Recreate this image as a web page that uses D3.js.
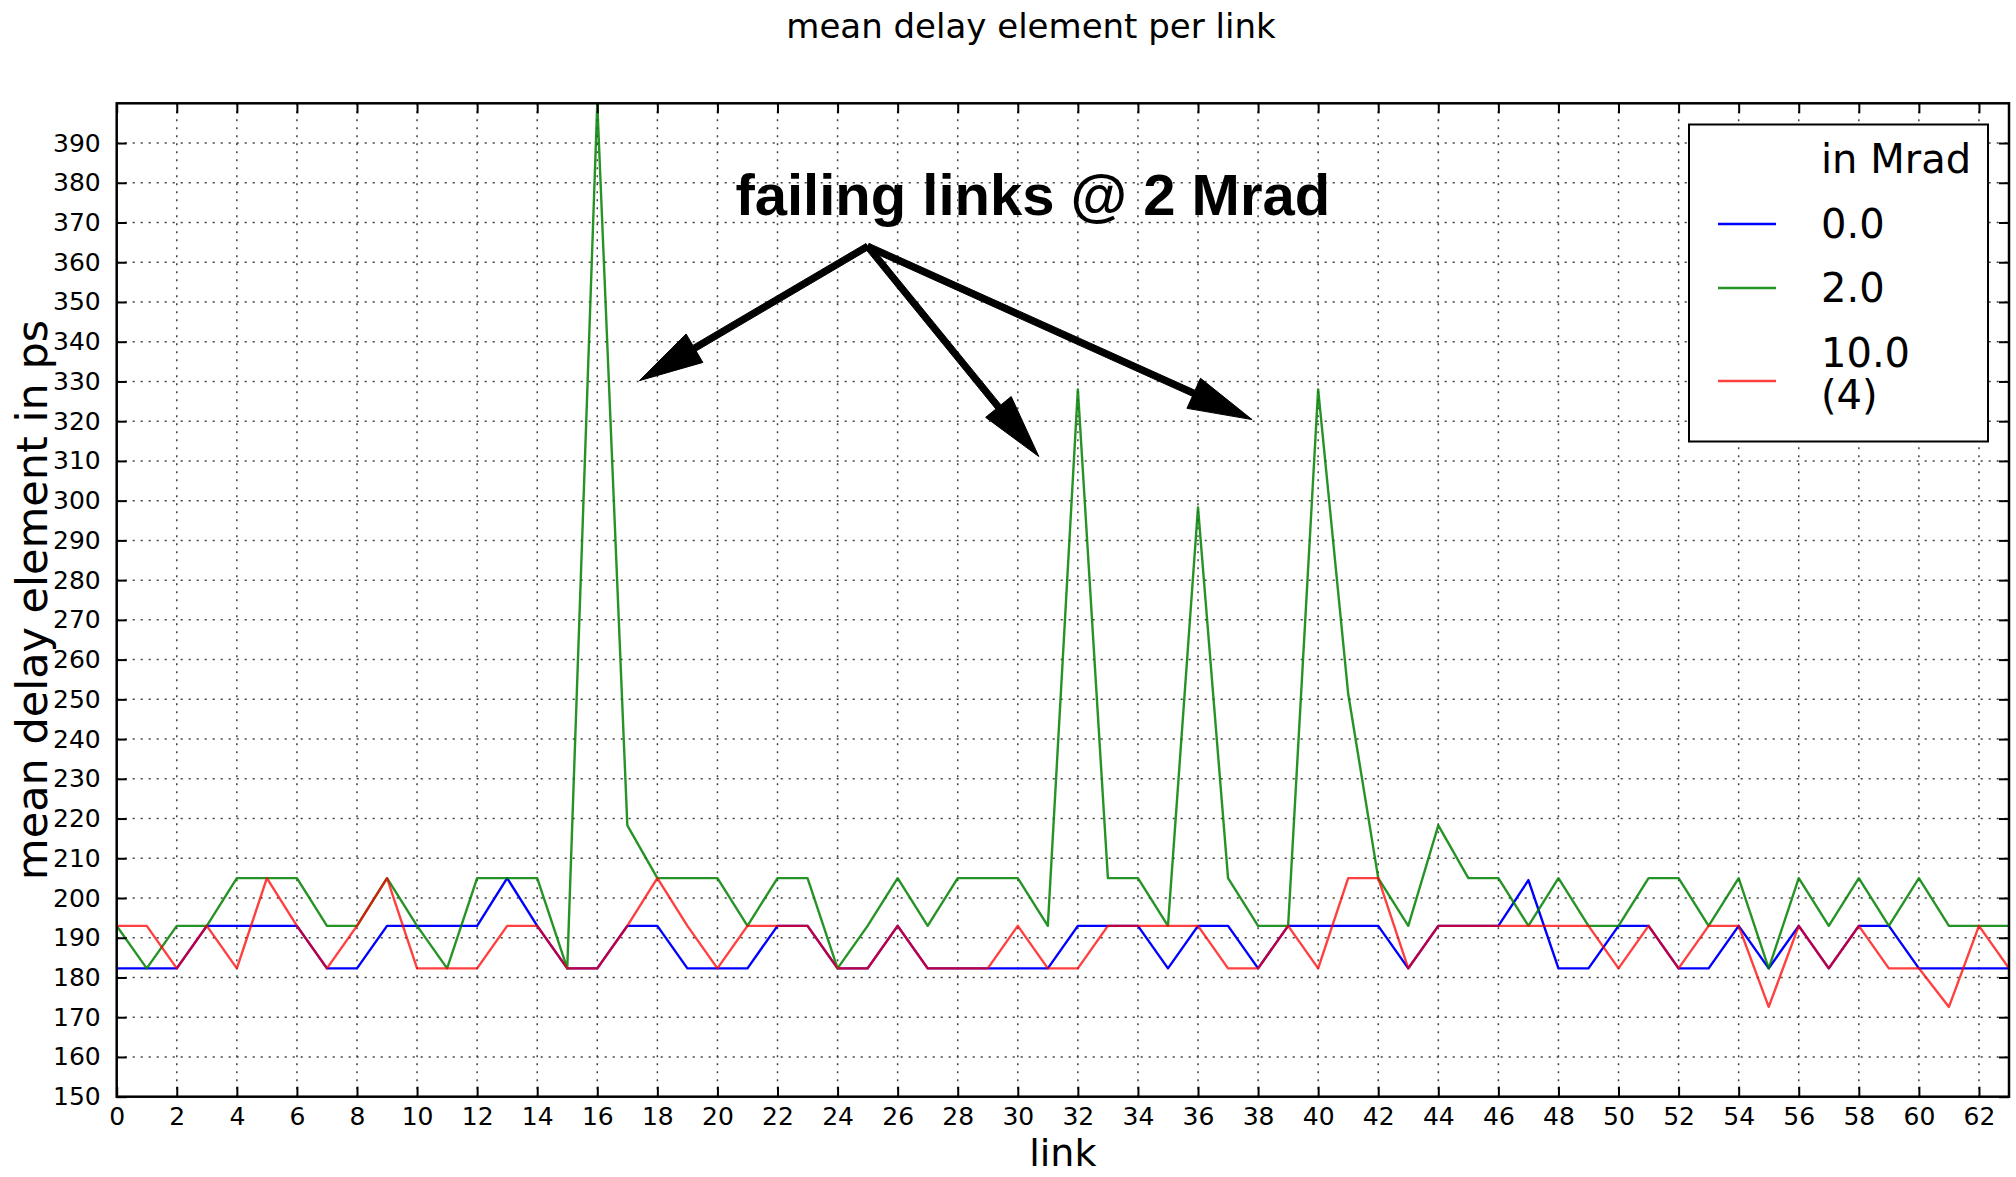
<!DOCTYPE html>
<html>
<head>
<meta charset="utf-8">
<script src="https://cdn.jsdelivr.net/npm/d3@7"></script>
<style>
  html, body { margin: 0; padding: 0; background: #ffffff; }
  svg { display: block; }
  text { font-family: "DejaVu Sans", sans-serif; fill: #000; }
  text.note { font-family: "Liberation Sans", Arial, sans-serif; font-weight: bold; }
</style>
</head>
<body>
<svg id="chart" width="2016" height="1177"></svg>
<script>
// link index along the x axis
const links = [
  0, 1, 2, 3, 4, 5, 6, 7, 8, 9, 10, 11, 12, 13, 14, 15,
  16, 17, 18, 19, 20, 21, 22, 23, 24, 25, 26, 27, 28, 29, 30, 31,
  32, 33, 34, 35, 36, 37, 38, 39, 40, 41, 42, 43, 44, 45, 46, 47,
  48, 49, 50, 51, 52, 53, 54, 55, 56, 57, 58, 59, 60, 61, 62, 63
];

// mean delay element (ps) per link at 0.0 Mrad
const delay0 = [
  182.3, 182.3, 182.3, 193.0, 193.0, 193.0, 193.0, 182.3, 182.3, 193.0, 193.0, 193.0, 193.0, 205.0, 193.0, 182.3,
  182.3, 193.0, 193.0, 182.3, 182.3, 182.3, 193.0, 193.0, 182.3, 182.3, 193.0, 182.3, 182.3, 182.3, 182.3, 182.3,
  193.0, 193.0, 193.0, 182.3, 193.0, 193.0, 182.3, 193.0, 193.0, 193.0, 193.0, 182.3, 193.0, 193.0, 193.0, 204.5,
  182.3, 182.3, 193.0, 193.0, 182.3, 182.3, 193.0, 182.3, 193.0, 182.3, 193.0, 193.0, 182.3, 182.3, 182.3, 182.3
];

// at 2.0 Mrad
const delay2 = [
  193.0, 182.3, 193.0, 193.0, 205.0, 205.0, 205.0, 193.0, 193.0, 205.0, 193.0, 182.3, 205.0, 205.0, 205.0, 182.3,
  400.0, 218.3, 205.0, 205.0, 205.0, 193.0, 205.0, 205.0, 182.3, 193.0, 205.0, 193.0, 205.0, 205.0, 205.0, 193.0,
  328.0, 205.0, 205.0, 193.0, 298.3, 205.0, 193.0, 193.0, 328.0, 251.4, 205.0, 193.0, 218.3, 205.0, 205.0, 193.0,
  205.0, 193.0, 193.0, 205.0, 205.0, 193.0, 205.0, 182.3, 205.0, 193.0, 205.0, 193.0, 205.0, 193.0, 193.0, 193.0
];

// at 10.0 Mrad (4)
const delay10 = [
  193.0, 193.0, 182.3, 193.0, 182.3, 205.0, 193.0, 182.3, 193.0, 205.0, 182.3, 182.3, 182.3, 193.0, 193.0, 182.3,
  182.3, 193.0, 205.0, 193.0, 182.3, 193.0, 193.0, 193.0, 182.3, 182.3, 193.0, 182.3, 182.3, 182.3, 193.0, 182.3,
  182.3, 193.0, 193.0, 193.0, 193.0, 182.3, 182.3, 193.0, 182.3, 205.0, 205.0, 182.3, 193.0, 193.0, 193.0, 193.0,
  193.0, 193.0, 182.3, 193.0, 182.3, 193.0, 193.0, 172.6, 193.0, 182.3, 193.0, 182.3, 182.3, 172.6, 193.0, 182.3
];

const seriesLabels = [["0.0"], ["2.0"], ["10.0", "(4)"]];
const legendTitle = "in Mrad";

const xTicks = [0, 2, 4, 6, 8, 10, 12, 14, 16, 18, 20, 22, 24, 26, 28, 30,
                32, 34, 36, 38, 40, 42, 44, 46, 48, 50, 52, 54, 56, 58, 60, 62];
const yTicks = [150, 160, 170, 180, 190, 200, 210, 220, 230, 240, 250, 260, 270,
                280, 290, 300, 310, 320, 330, 340, 350, 360, 370, 380, 390];

// annotation: text and arrows pointing at the failing links (data coordinates)
const noteText = "failing links @ 2 Mrad";
const noteTextAt = [30.5, 372];
const arrowFrom = [25.0, 364.0];
const arrowTips = [[17.4, 330.2], [30.7, 311.1], [37.8, 320.4]];

// ---------------------------------------------------------------
const svg = d3.select("#chart");
const pL = 116.7, pR = 2009, pT = 103.3, pB = 1096.7;

const x = d3.scaleLinear().domain([0, 63]).range([pL, pR]);
const y = d3.scaleLinear().domain([150, 400]).range([pB, pT]);

svg.append("rect").attr("width", 2016).attr("height", 1177).attr("fill", "#fff");

svg.append("defs").append("clipPath").attr("id", "plotClip")
  .append("rect").attr("x", pL).attr("y", pT)
  .attr("width", pR - pL).attr("height", pB - pT);

// dotted grid
const grid = svg.append("g").attr("stroke", "#000").attr("stroke-width", 1.5)
  .attr("stroke-dasharray", "2,6").attr("opacity", 0.75);
grid.selectAll("line.gx").data(xTicks.filter(d => d > 0)).join("line").attr("class", "gx")
  .attr("x1", d => x(d)).attr("x2", d => x(d)).attr("y1", pT).attr("y2", pB);
grid.selectAll("line.gy").data(yTicks.filter(d => d > 150)).join("line").attr("class", "gy")
  .attr("x1", pL).attr("x2", pR).attr("y1", d => y(d)).attr("y2", d => y(d));

// series lines
const series = [
  { values: delay0, color: "#0000ff", opacity: 1.0 },
  { values: delay2, color: "#008000", opacity: 0.85 },
  { values: delay10, color: "#ff0000", opacity: 0.75 }
];
const line = d3.line().x((d, i) => x(links[i])).y(d => y(d));
const lines = svg.append("g").attr("clip-path", "url(#plotClip)");
series.forEach(s => {
  lines.append("path").datum(s.values)
    .attr("d", line).attr("fill", "none")
    .attr("stroke", s.color).attr("stroke-opacity", s.opacity)
    .attr("stroke-width", 2.4).attr("stroke-linejoin", "round");
});

// axes with inward ticks on all four sides
const tickLen = 10;
const axB = d3.axisBottom(x).tickValues(xTicks).tickSizeInner(-tickLen).tickSizeOuter(0).tickPadding(tickLen + 1);
const axT = d3.axisTop(x).tickValues(xTicks).tickSizeInner(-tickLen).tickSizeOuter(0).tickFormat("");
const axL = d3.axisLeft(y).tickValues(yTicks).tickSizeInner(-tickLen).tickSizeOuter(0).tickPadding(tickLen + 6);
const axR = d3.axisRight(y).tickValues(yTicks).tickSizeInner(-tickLen).tickSizeOuter(0).tickFormat("");

function styleAxis(g) {
  g.select(".domain").remove();
  g.selectAll(".tick line").attr("stroke", "#000").attr("stroke-width", 2);
  g.selectAll(".tick text").attr("font-size", 25).attr("fill", "#111");
}
svg.append("g").attr("transform", `translate(0,${pB})`).call(axB).call(styleAxis);
svg.append("g").attr("transform", `translate(0,${pT})`).call(axT).call(styleAxis);
svg.append("g").attr("transform", `translate(${pL},0)`).call(axL).call(styleAxis);
svg.append("g").attr("transform", `translate(${pR},0)`).call(axR).call(styleAxis);

// frame
svg.append("rect").attr("x", pL).attr("y", pT)
  .attr("width", pR - pL).attr("height", pB - pT)
  .attr("fill", "none").attr("stroke", "#000").attr("stroke-width", 2.5);

// titles
svg.append("text").attr("x", 1031).attr("y", 38).attr("text-anchor", "middle")
  .attr("font-size", 34).text("mean delay element per link");
svg.append("text").attr("x", (pL + pR) / 2).attr("y", 1166).attr("text-anchor", "middle")
  .attr("font-size", 38).text("link");
svg.append("text").attr("transform", `translate(47,${(pT + pB) / 2}) rotate(-90)`)
  .attr("text-anchor", "middle").attr("font-size", 43).text("mean delay element in ps");

// annotation text
svg.append("text").attr("class", "note")
  .attr("x", x(noteTextAt[0])).attr("y", y(noteTextAt[1]))
  .attr("text-anchor", "middle").attr("font-size", 58).text(noteText);

// arrows
function arrowPath(sx, sy, tx, ty) {
  const headLen = 64, headW = 33, shaftW = 6.5;
  const dx = tx - sx, dy = ty - sy, len = Math.hypot(dx, dy);
  const ux = dx / len, uy = dy / len, nx = -uy, ny = ux;
  const bx = tx - ux * headLen, by = ty - uy * headLen;
  const p = [
    [sx + nx * shaftW / 2, sy + ny * shaftW / 2],
    [bx + nx * shaftW / 2, by + ny * shaftW / 2],
    [bx + nx * headW / 2, by + ny * headW / 2],
    [tx, ty],
    [bx - nx * headW / 2, by - ny * headW / 2],
    [bx - nx * shaftW / 2, by - ny * shaftW / 2],
    [sx - nx * shaftW / 2, sy - ny * shaftW / 2]
  ];
  return "M" + p.map(q => q.join(",")).join("L") + "Z";
}
const arrows = svg.append("g");
arrowTips.forEach(t => {
  arrows.append("path")
    .attr("d", arrowPath(x(arrowFrom[0]), y(arrowFrom[1]), x(t[0]), y(t[1])))
    .attr("fill", "#000").attr("stroke", "#000").attr("stroke-width", 1).attr("stroke-linejoin", "miter");
});

// legend
const lg = svg.append("g");
lg.append("rect").attr("x", 1689).attr("y", 124.5).attr("width", 299).attr("height", 317)
  .attr("fill", "#fff").attr("stroke", "#000").attr("stroke-width", 2);
lg.append("text").attr("x", 1821).attr("y", 173).attr("font-size", 40).text(legendTitle);
const legendRows = [224, 288, 381];
const legendBase = [[238], [302], [367, 409]];
series.forEach((s, i) => {
  lg.append("line").attr("x1", 1718).attr("x2", 1776)
    .attr("y1", legendRows[i]).attr("y2", legendRows[i])
    .attr("stroke", s.color).attr("stroke-opacity", s.opacity).attr("stroke-width", 2.5);
  seriesLabels[i].forEach((t, j) => {
    lg.append("text").attr("x", 1821).attr("y", legendBase[i][j]).attr("font-size", 40).text(t);
  });
});
</script>
</body>
</html>
